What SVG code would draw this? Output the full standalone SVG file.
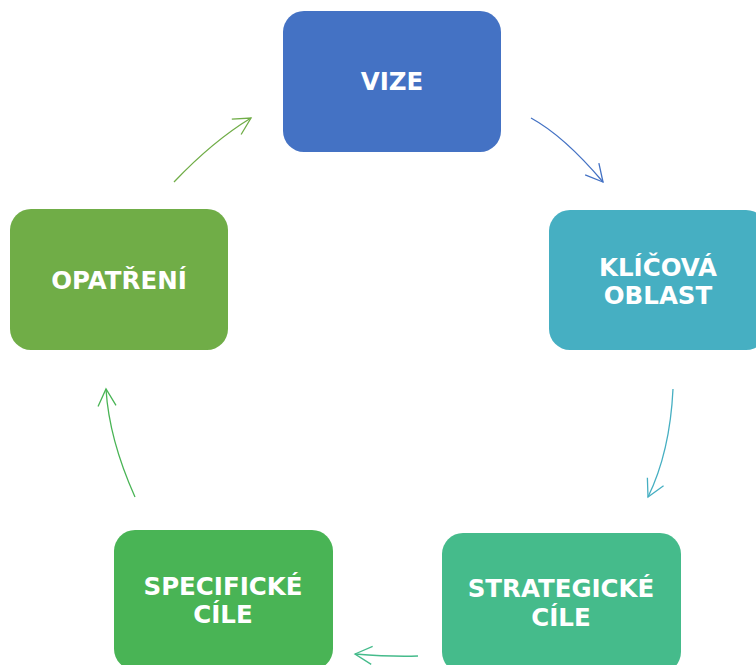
<svg xmlns="http://www.w3.org/2000/svg" width="756" height="665" viewBox="0 0 756 665">
<style>
  .box { stroke: none; }
  .lbl { font-family: "DejaVu Sans", "Verdana", sans-serif; font-weight: bold; font-size: 24.5px; fill: #ffffff; text-anchor: middle; }
  .conn { fill: none; stroke-width: 1.3; }
</style>
<defs>
  <marker id="m1" markerUnits="userSpaceOnUse" viewBox="-22 -12 24 24" markerWidth="24" markerHeight="24" refX="0" refY="0" orient="auto" overflow="visible"><path d="M-17,-9 L0,0 L-17,9" fill="none" stroke="#4472C4" stroke-width="1.3"/></marker>
  <marker id="m2" markerUnits="userSpaceOnUse" viewBox="-22 -12 24 24" markerWidth="24" markerHeight="24" refX="0" refY="0" orient="auto" overflow="visible"><path d="M-17,-9 L0,0 L-17,9" fill="none" stroke="#46AFC2" stroke-width="1.3"/></marker>
  <marker id="m3" markerUnits="userSpaceOnUse" viewBox="-22 -12 24 24" markerWidth="24" markerHeight="24" refX="0" refY="0" orient="auto" overflow="visible"><path d="M-17,-9 L0,0 L-17,9" fill="none" stroke="#45BB8B" stroke-width="1.3"/></marker>
  <marker id="m4" markerUnits="userSpaceOnUse" viewBox="-22 -12 24 24" markerWidth="24" markerHeight="24" refX="0" refY="0" orient="auto" overflow="visible"><path d="M-17,-9 L0,0 L-17,9" fill="none" stroke="#49B455" stroke-width="1.3"/></marker>
  <marker id="m5" markerUnits="userSpaceOnUse" viewBox="-22 -12 24 24" markerWidth="24" markerHeight="24" refX="0" refY="0" orient="auto" overflow="visible"><path d="M-17,-9 L0,0 L-17,9" fill="none" stroke="#70AD47" stroke-width="1.3"/></marker>
</defs>
<rect width="756" height="665" fill="#ffffff"/>
<g id="connectors">
  <path class="conn" stroke="#4472C4" d="M531,118 Q564,136 603,182" marker-end="url(#m1)"/>
  <path class="conn" stroke="#46AFC2" d="M673,389 Q670,452 648,497" marker-end="url(#m2)"/>
  <path class="conn" stroke="#45BB8B" d="M418,656 Q392,657 355,654" marker-end="url(#m3)"/>
  <path class="conn" stroke="#49B455" d="M135,497 Q109,439 106,389" marker-end="url(#m4)"/>
  <path class="conn" stroke="#70AD47" d="M174,182 Q213,141 251,118" marker-end="url(#m5)"/>
</g>
<g id="node-vize">
  <rect class="box" x="283" y="11" width="218" height="141" rx="21" fill="#4472C4"/>
  <text class="lbl" x="392" y="90">VIZE</text>
</g>
<g id="node-klicova-oblast">
  <rect class="box" x="549" y="210" width="218" height="140" rx="21" fill="#46AFC2"/>
  <text class="lbl" x="658" y="276">KLÍČOVÁ</text>
  <text class="lbl" x="658" y="304">OBLAST</text>
</g>
<g id="node-strategicke-cile">
  <rect class="box" x="442" y="533" width="239" height="140" rx="21" fill="#45BB8B"/>
  <text class="lbl" x="561" y="597">STRATEGICKÉ</text>
  <text class="lbl" x="561" y="626">CÍLE</text>
</g>
<g id="node-specificke-cile">
  <rect class="box" x="114" y="530" width="219" height="140" rx="21" fill="#49B455"/>
  <text class="lbl" x="223" y="595">SPECIFICKÉ</text>
  <text class="lbl" x="223" y="623">CÍLE</text>
</g>
<g id="node-opatreni">
  <rect class="box" x="10" y="209" width="218" height="141" rx="21" fill="#70AD47"/>
  <text class="lbl" x="119" y="289">OPATŘENÍ</text>
</g>
</svg>
